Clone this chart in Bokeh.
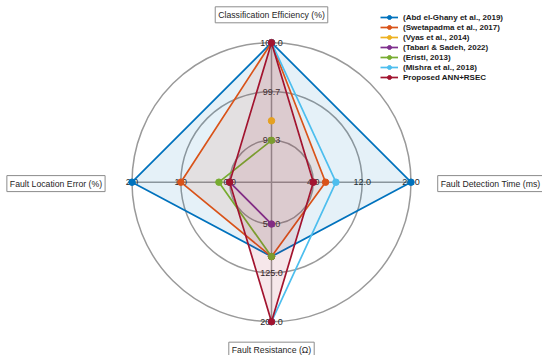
import numpy as np
from bokeh.plotting import figure
from bokeh.models import Range1d, Legend, LegendItem
from bokeh.core.properties import value
from bokeh.embed import file_html
from bokeh.resources import INLINE

# ---------------- data ----------------
axis_names = ["Classification Efficiency (%)", "Fault Detection Time (ms)",
              "Fault Resistance (\u03a9)", "Fault Location Error (%)"]
axis_min = [99.3, 4.0, 50.0, 0.0]
axis_max = [100.0, 20.0, 200.0, 2.0]
tick_labels = [["99.3", "99.7", "100.0"],
               ["4.0", "12.0", "20.0"],
               ["50.0", "125.0", "200.0"],
               ["0.0", "1.0", "2.0"]]

series_names = ["(Abd el-Ghany et al., 2019)", "(Swetapadma et al., 2017)",
                "(Vyas et al., 2014)", "(Tabari & Sadeh, 2022)",
                "(Eristi, 2013)", "(Mishra et al., 2018)", "Proposed ANN+RSEC"]
series_colors = ["#0072BD", "#D95319", "#EDB120", "#7E2F8E",
                 "#77AC30", "#4DBEEE", "#A2142F"]
nan = float("nan")
# order: Classification Efficiency, Detection Time, Resistance, Location Error
abd_el_ghany = [100.0, 20.0, 100.0, 2.0]
swetapadma = [100.0, 6.0, 100.0, 1.0]
vyas = [99.44, nan, nan, nan]
tabari = [nan, nan, 50.0, 0.0]
eristi = [99.3, nan, 100.0, 0.22]
mishra = [100.0, 7.7, 200.0, nan]
proposed = [100.0, 4.0, 200.0, 0.0]
series_values = [abd_el_ghany, swetapadma, vyas, tabari, eristi, mishra, proposed]

# ---------------- scale ----------------
R_IN = 0.3  # normalized radius where each axis minimum sits
ring_r = np.linspace(R_IN, 1.0, 3)
angles = np.pi / 2 - np.arange(4) * np.pi / 2  # top, right, bottom, left


def rad(i, v):
    return R_IN + (1 - R_IN) * (v - axis_min[i]) / (axis_max[i] - axis_min[i])


W, H = 542, 355
S = 139.5          # px per unit radius
CX, CY = 271.0, 181.7  # centre in frame px (from top-left)

p = figure(width=W, height=H, output_backend="svg", toolbar_location=None,
           x_range=Range1d(-CX / S, (W - CX) / S),
           y_range=Range1d(-(H - CY) / S, CY / S),
           x_axis_location=None, y_axis_location=None,
           min_border=0, outline_line_color=None)
p.grid.visible = False
p.background_fill_color = "white"

FONT = value("Liberation Sans")
GRID = "#9a9a9a"

# rings and spokes
p.circle(x=[0, 0, 0], y=[0, 0, 0], radius=list(ring_r), fill_color=None,
         line_color=GRID, line_width=1.5)
for a in angles:
    p.line([0, np.cos(a)], [0, np.sin(a)], line_color=GRID, line_width=1.5)

# tick labels
tx, ty, tt = [], [], []
for i, a in enumerate(angles):
    for r, lab in zip(ring_r, tick_labels[i]):
        tx.append(r * np.cos(a))
        ty.append(r * np.sin(a))
        tt.append(lab)
p.text(x=tx, y=ty, text=tt, text_font=FONT, text_font_size="9px",
       text_align="center", text_baseline="middle", text_color="#262626")

# series
items = []
for name, col, vals in zip(series_names, series_colors, series_values):
    rs = [rad(i, v) for i, v in enumerate(vals)]
    xs = [r * np.cos(a) for r, a in zip(rs, angles)]
    ys = [r * np.sin(a) for r, a in zip(rs, angles)]
    if all(np.isfinite(rs)):
        p.patch(xs, ys, fill_color=col, fill_alpha=0.1, line_color=None)
    ln = p.line(xs + [xs[0]], ys + [ys[0]], line_color=col, line_width=1.7)
    sc = p.scatter(xs, ys, size=6.5, marker="circle", fill_color=col, line_color=col)
    items.append(LegendItem(label=name, renderers=[ln, sc]))

# axis name boxes
lab_pos = [(0.0, 1.2), (1.57, -0.01), (0.0, -1.204), (-1.545, -0.01)]
p.text(x=[q[0] for q in lab_pos], y=[q[1] for q in lab_pos], text=axis_names,
       text_font=FONT, text_font_size="8.7px", text_align="center",
       text_baseline="middle", text_color="#262626",
       background_fill_color="white", border_line_color="#8c8c8c",
       border_line_width=1, padding=(3, 3, 3, 3))

legend = Legend(items=items, location=(380, H - 82), border_line_color=None,
                background_fill_alpha=0, padding=0, margin=0, spacing=0,
                glyph_width=18, glyph_height=10, label_height=10,
                label_standoff=5, label_text_font="Liberation Sans",
                label_text_font_style="bold", label_text_font_size="8px",
                label_text_color="#1a1a1a")
p.add_layout(legend)

open("out.html", "w").write(file_html(p, INLINE))
